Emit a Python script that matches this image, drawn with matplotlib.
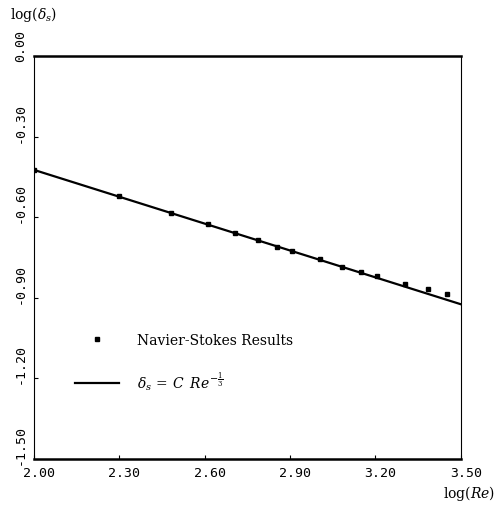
"""Boundary layer thickness vs Reynolds number"""
import numpy as np
from matplotlib import pyplot as plt
from matplotlib import transforms

# Navier-Stokes results
log_re = [2.00, 2.30, 2.48, 2.61, 2.705, 2.786, 2.855, 2.908, 3.004,
          3.082, 3.149, 3.207, 3.303, 3.385, 3.453]
log_delta = [-0.424, -0.520, -0.585, -0.625, -0.660, -0.685, -0.710, -0.727,
             -0.757, -0.784, -0.804, -0.820, -0.849, -0.868, -0.886]

# fit: delta_s = C Re^(-1/3)
log_c = 0.2427
fit_x = [2.0, 3.5]

x_ticks = [2.00, 2.30, 2.60, 2.90, 3.20, 3.50]
y_ticks = [0.00, -0.30, -0.60, -0.90, -1.20, -1.50]

mono = "DejaVu Sans Mono"
serif = "DejaVu Serif"
plt.rcParams["mathtext.fontset"] = "dejavuserif"

fig = plt.figure(figsize=(4.96, 5.06), dpi=100)
ax = fig.add_axes([0.0685, 0.0909, 0.8605, 0.7965])

ax.plot(log_re, log_delta, "s", ms=3, color="black", label="Navier-Stokes Results")
fit_y = [log_c - x / 3.0 for x in fit_x]
ax.plot(fit_x, fit_y, color="black", lw=1.6,
        label=r"$\delta_s\,=\,C\;\;Re^{-\frac{1}{3}}$")

ax.set_xlim(2.0, 3.5)
ax.set_ylim(-1.5, 0.0)
ax.set_xticks(x_ticks)
ax.set_yticks(y_ticks)
ax.set_xticklabels(["%.2f" % t for t in x_ticks], fontfamily=mono, fontsize=9.5)
ax.set_yticklabels(["%.2f" % t for t in y_ticks], fontfamily=mono, fontsize=9.5,
                   rotation=90, va="bottom")
ax.tick_params(direction="in", length=3, width=0.8, pad=5)

# labels sit a little off their ticks in the original
shift_x = transforms.ScaledTranslation(5 / 100, 0, fig.dpi_scale_trans)
for lbl in ax.get_xticklabels():
    lbl.set_transform(lbl.get_transform() + shift_x)
shift_y = transforms.ScaledTranslation(0, -5 / 100, fig.dpi_scale_trans)
for lbl in ax.get_yticklabels():
    lbl.set_transform(lbl.get_transform() + shift_y)

for side in ["top", "bottom"]:
    ax.spines[side].set_linewidth(1.8)
for side in ["left", "right"]:
    ax.spines[side].set_linewidth(0.8)

leg = ax.legend(loc="upper left", bbox_to_anchor=(0.068, 0.343), frameon=False,
                handlelength=3.1, handletextpad=1.3, labelspacing=1.6,
                prop={"family": serif, "size": 10})

fig.text(0.02, 0.972, r"$\log(\delta_s)$", fontsize=10, ha="left", va="center")
fig.text(0.998, 0.025, r"$\log(Re)$", fontsize=10, ha="right", va="center")

plt.savefig("out.png", dpi=100)
plt.close()
